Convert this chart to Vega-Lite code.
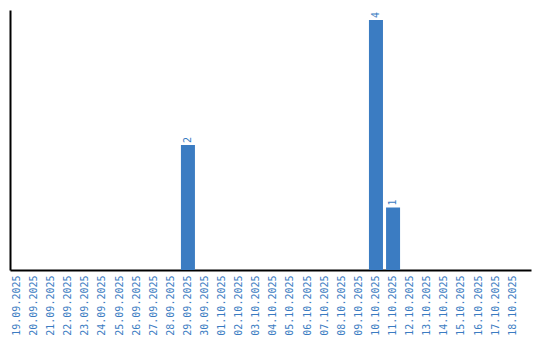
{
  "$schema": "https://vega.github.io/schema/vega-lite/v6.json",
  "width": 521,
  "height": 260,
  "autosize": {"type": "none"},
  "padding": {"left": 10, "top": 10, "right": 9, "bottom": 70},
  "background": "white",
  "config": {"view": {"stroke": null}},
  "data": {"values": [
    {"date": "19.09.2025", "count": 0},
    {"date": "20.09.2025", "count": 0},
    {"date": "21.09.2025", "count": 0},
    {"date": "22.09.2025", "count": 0},
    {"date": "23.09.2025", "count": 0},
    {"date": "24.09.2025", "count": 0},
    {"date": "25.09.2025", "count": 0},
    {"date": "26.09.2025", "count": 0},
    {"date": "27.09.2025", "count": 0},
    {"date": "28.09.2025", "count": 0},
    {"date": "29.09.2025", "count": 2},
    {"date": "30.09.2025", "count": 0},
    {"date": "01.10.2025", "count": 0},
    {"date": "02.10.2025", "count": 0},
    {"date": "03.10.2025", "count": 0},
    {"date": "04.10.2025", "count": 0},
    {"date": "05.10.2025", "count": 0},
    {"date": "06.10.2025", "count": 0},
    {"date": "07.10.2025", "count": 0},
    {"date": "08.10.2025", "count": 0},
    {"date": "09.10.2025", "count": 0},
    {"date": "10.10.2025", "count": 4},
    {"date": "11.10.2025", "count": 1},
    {"date": "12.10.2025", "count": 0},
    {"date": "13.10.2025", "count": 0},
    {"date": "14.10.2025", "count": 0},
    {"date": "15.10.2025", "count": 0},
    {"date": "16.10.2025", "count": 0},
    {"date": "17.10.2025", "count": 0},
    {"date": "18.10.2025", "count": 0}
  ]},
  "encoding": {
    "x": {
      "field": "date", "type": "nominal", "sort": null,
      "scale": {"paddingInner": 0.18, "paddingOuter": 0.33, "align": 0},
      "axis": {
        "title": null, "labelAngle": -90, "ticks": false, "labelPadding": 5,
        "labelFont": "DejaVu Sans Mono", "labelFontSize": 10, "labelColor": "#3b7cc2",
        "domainColor": "#000000", "domainWidth": 2, "grid": false
      }
    },
    "y": {
      "field": "count", "type": "quantitative",
      "scale": {"domain": [0, 4.16], "nice": false},
      "axis": {
        "title": null, "labels": false, "ticks": false, "grid": false,
        "domainColor": "#000000", "domainWidth": 2
      }
    }
  },
  "layer": [
    {"mark": {"type": "bar", "color": "#3b7cc2"}},
    {
      "transform": [{"filter": "datum.count > 0"}],
      "mark": {"type": "text", "angle": -90, "align": "left", "baseline": "middle", "dx": 2,
               "font": "DejaVu Sans Mono", "fontSize": 10, "color": "#3b7cc2"},
      "encoding": {"text": {"field": "count", "type": "quantitative"}}
    }
  ]
}
